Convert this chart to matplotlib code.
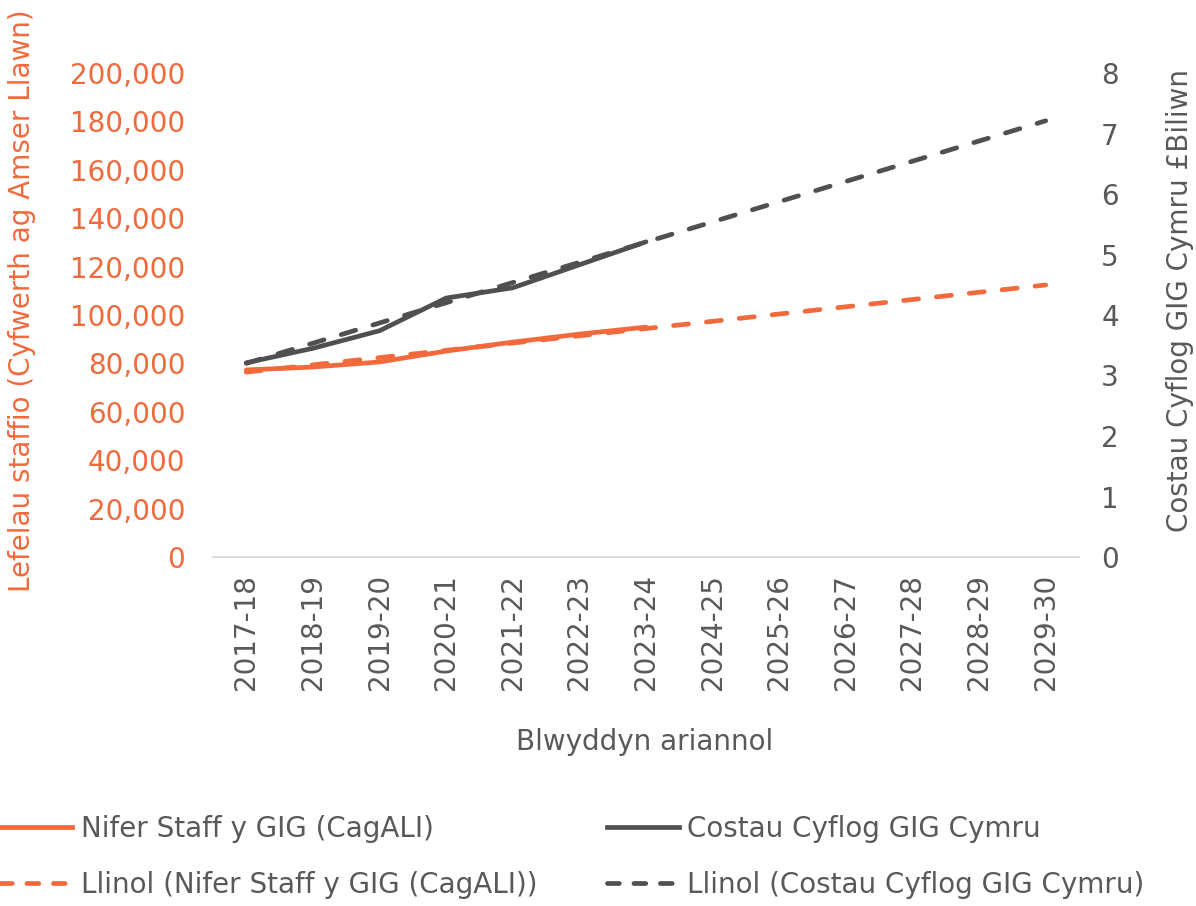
import numpy as np
import matplotlib.pyplot as plt
from matplotlib.lines import Line2D

plt.rcParams['font.family'] = ['DejaVu Sans']

# financial years on the category axis
years = ['2017-18', '2018-19', '2019-20', '2020-21', '2021-22', '2022-23', '2023-24',
         '2024-25', '2025-26', '2026-27', '2027-28', '2028-29', '2029-30']

# actual values (2017-18 to 2023-24)
staff_fte = [77300, 78500, 80600, 85100, 88800, 92100, 95000]
pay_costs = [3.21, 3.45, 3.74, 4.28, 4.45, 4.83, 5.21]

# linear trendlines, value at first and last year
staff_trend = [76400, 112400]
cost_trend = [3.20, 7.21]

orange = '#F26A3C'
grey = '#505050'
text_grey = '#595959'

fig = plt.figure(figsize=(11.96, 9.06), dpi=100)
ax = fig.add_axes([213 / 1196, 1 - 557 / 906, (1079 - 213) / 1196, (557 - 73) / 906])
ax2 = ax.twinx()

x = np.arange(len(years))
x_act = x[:len(staff_fte)]
x_trend = [x[0], x[-1]]

lw = 3.4
ax.plot(x_trend, staff_trend, color=orange, lw=lw, ls=(0, (3.2, 3.8)),
        dash_capstyle='round', zorder=3)
ax.plot(x_act, staff_fte, color=orange, lw=lw, solid_capstyle='round', zorder=4)
ax2.plot(x_trend, cost_trend, color=grey, lw=lw, ls=(0, (3.2, 3.8)),
         dash_capstyle='round', zorder=3)
ax2.plot(x_act, pay_costs, color=grey, lw=lw, solid_capstyle='round', zorder=4)

ax.set_xlim(-0.5, len(years) - 0.5)
ax.set_ylim(0, 200000)
ax2.set_ylim(0, 8)
ax.set_yticks(np.arange(0, 200001, 20000))
ax.set_yticklabels(['{:,}'.format(v) for v in range(0, 200001, 20000)])
ax2.set_yticks(range(0, 9))
ax.set_xticks(x)
ax.set_xticklabels(years, rotation=90)

for a in (ax, ax2):
    for s in a.spines.values():
        s.set_visible(False)
ax.spines['bottom'].set_visible(True)
ax.spines['bottom'].set_color('#D9D9D9')
ax.spines['bottom'].set_linewidth(1.3)

fs = 20
ax.tick_params(axis='y', length=0, labelsize=fs, labelcolor=orange, pad=20)
ax2.tick_params(axis='y', length=0, labelsize=fs, labelcolor=text_grey, pad=16)
ax.tick_params(axis='x', length=0, labelsize=fs, labelcolor=text_grey, pad=12)

fig.text(22 / 1196, 1 - 301 / 906, 'Lefelau staffio (Cyfwerth ag Amser Llawn)',
         rotation=90, ha='center', va='center', fontsize=fs, color=orange)
fig.text(1180 / 1196, 1 - 301 / 906, 'Costau Cyflog GIG Cymru £Biliwn',
         rotation=90, ha='center', va='center', fontsize=fs, color=text_grey)
fig.text(645 / 1196, 1 - 742 / 906, 'Blwyddyn ariannol',
         ha='center', va='center', fontsize=fs, color=text_grey)

handles = [
    Line2D([], [], color=orange, lw=lw),
    Line2D([], [], color=orange, lw=lw, ls=(0, (2.5, 3.1)), dash_capstyle='round'),
    Line2D([], [], color=grey, lw=lw),
    Line2D([], [], color=grey, lw=lw, ls=(0, (2.5, 3.1)), dash_capstyle='round'),
]
labels = ['Nifer Staff y GIG (CagALI)', 'Llinol (Nifer Staff y GIG (CagALI))',
          'Costau Cyflog GIG Cymru', 'Llinol (Costau Cyflog GIG Cymru)']
leg = fig.legend(handles, labels, ncol=2, loc='upper left',
                 bbox_to_anchor=(0.0, 1 - 815 / 906), frameon=False, fontsize=fs,
                 handlelength=2.6, handletextpad=0.3, columnspacing=2.5,
                 labelspacing=1.0, borderpad=0, borderaxespad=0)
for t in leg.get_texts():
    t.set_color(text_grey)

fig.savefig('out.png', dpi=100)
